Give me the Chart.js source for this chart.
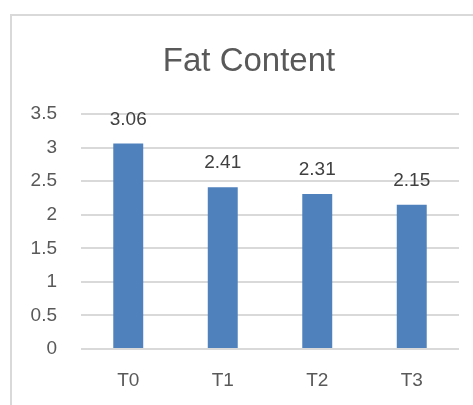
<!DOCTYPE html>
<html>
<head>
<meta charset="utf-8">
<script src="https://cdn.jsdelivr.net/npm/chart.js@4/dist/chart.umd.min.js"></script>
<style>
  html, body { margin: 0; padding: 0; background: #ffffff; overflow: hidden; }
  #wrap { position: relative; width: 473px; height: 405px; }
  #frame { position: absolute; left: 10px; top: 14px; width: 600px; height: 600px;
           border-left: 2px solid #d9d9d9; border-top: 2px solid #d9d9d9; box-sizing: border-box; }
  canvas { position: absolute; left: 0; top: 0; }
</style>
</head>
<body>
<div id="wrap">
  <div id="frame"></div>
  <canvas id="chart" width="473" height="405"></canvas>
</div>
<script>
// Fat content per treatment
const categories = ['T0', 'T1', 'T2', 'T3'];
const fatValues = [3.06, 2.41, 2.31, 2.15];
const yMin = 0;
const yMax = 3.5;
const yStep = 0.5;
const chartTitle = 'Fat Content';

const FONT = "'Liberation Sans', Arial, sans-serif";
const TICK_SIZE = 19;

// Chart heading, centred over the framed panel
const heading = {
  id: 'heading',
  afterDraw(chart) {
    const ctx = chart.ctx;
    ctx.save();
    ctx.font = '33px ' + FONT;
    ctx.fillStyle = '#595959';
    ctx.textAlign = 'center';
    ctx.textBaseline = 'alphabetic';
    ctx.fillText(chartTitle, 249, 71);
    ctx.restore();
  }
};

// Writes each bar's value just above it
const valueLabels = {
  id: 'valueLabels',
  afterDatasetsDraw(chart) {
    const ctx = chart.ctx;
    const meta = chart.getDatasetMeta(0);
    ctx.save();
    ctx.font = TICK_SIZE + 'px ' + FONT;
    ctx.fillStyle = '#404040';
    ctx.textAlign = 'center';
    ctx.textBaseline = 'alphabetic';
    meta.data.forEach((bar, i) => {
      ctx.fillText(fatValues[i].toFixed(2), bar.x, bar.y - 19);
    });
    ctx.restore();
  }
};

new Chart(document.getElementById('chart'), {
  type: 'bar',
  data: {
    labels: categories,
    datasets: [{
      data: fatValues,
      backgroundColor: '#4f81bd',
      borderWidth: 0,
      categoryPercentage: 1,
      barPercentage: 0.317
    }]
  },
  options: {
    responsive: false,
    animation: false,
    layout: { padding: { left: 0, right: 14, top: 114, bottom: 14 } },
    plugins: {
      legend: { display: false },
      tooltip: { enabled: false },
      title: { display: false }
    },
    scales: {
      x: {
        afterFit(axis) { axis.height = 42; },
        grid: { display: false, drawTicks: false },
        border: { display: false },
        ticks: { color: '#595959', font: { family: FONT, size: TICK_SIZE }, padding: 20 }
      },
      y: {
        min: yMin,
        max: yMax,
        afterFit(axis) { axis.width = 81; },
        grid: { color: '#d9d9d9', lineWidth: 2, drawTicks: false },
        border: { display: false },
        ticks: {
          stepSize: yStep,
          color: '#595959',
          font: { family: FONT, size: TICK_SIZE },
          padding: 24,
          callback: (v) => String(v)
        }
      }
    }
  },
  plugins: [valueLabels, heading]
});
</script>
</body>
</html>
